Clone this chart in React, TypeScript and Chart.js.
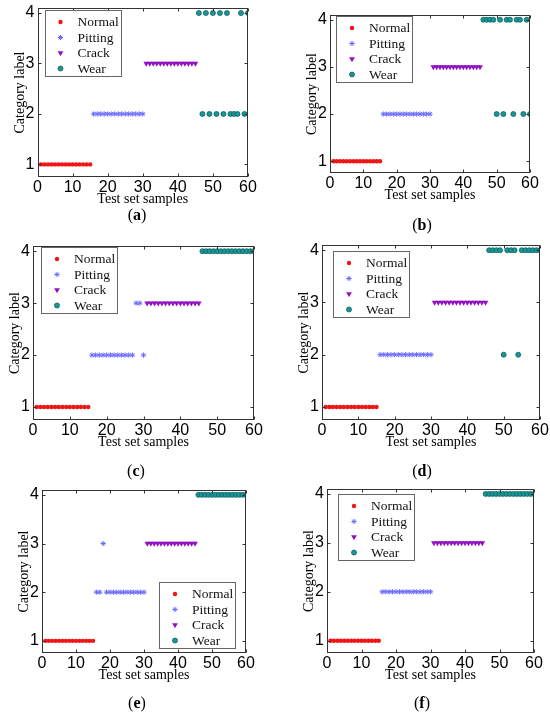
import { useEffect, useRef } from "react";
import { Chart, registerables } from "chart.js";
import { drawPoint } from "chart.js/helpers";

Chart.register(...registerables);

// classes and the test samples that belong to each (15 per class)
const classNames = ["Normal", "Pitting", "Crack", "Wear"];
const normalSamples = [1, 2, 3, 4, 5, 6, 7, 8, 9, 10, 11, 12, 13, 14, 15];
const pittingSamples = [16, 17, 18, 19, 20, 21, 22, 23, 24, 25, 26, 27, 28, 29, 30];
const crackSamples = [31, 32, 33, 34, 35, 36, 37, 38, 39, 40, 41, 42, 43, 44, 45];
const wearSamples = [46, 47, 48, 49, 50, 51, 52, 53, 54, 55, 56, 57, 58, 59, 60];
const classSamples = [normalSamples, pittingSamples, crackSamples, wearSamples];

// predicted category label for samples 1..60, one array per sub-figure
const predA = [
  1, 1, 1, 1, 1, 1, 1, 1, 1, 1, 1, 1, 1, 1, 1,
  2, 2, 2, 2, 2, 2, 2, 2, 2, 2, 2, 2, 2, 2, 2,
  3, 3, 3, 3, 3, 3, 3, 3, 3, 3, 3, 3, 3, 3, 3,
  4, 2, 4, 2, 4, 2, 4, 2, 4, 2, 2, 2, 4, 2, 4,
];
const predB = [
  1, 1, 1, 1, 1, 1, 1, 1, 1, 1, 1, 1, 1, 1, 1,
  2, 2, 2, 2, 2, 2, 2, 2, 2, 2, 2, 2, 2, 2, 2,
  3, 3, 3, 3, 3, 3, 3, 3, 3, 3, 3, 3, 3, 3, 3,
  4, 4, 4, 4, 2, 4, 2, 4, 4, 2, 4, 4, 2, 4, 2,
];
const predC = [
  1, 1, 1, 1, 1, 1, 1, 1, 1, 1, 1, 1, 1, 1, 1,
  2, 2, 2, 2, 2, 2, 2, 2, 2, 2, 2, 2, 3, 3, 2,
  3, 3, 3, 3, 3, 3, 3, 3, 3, 3, 3, 3, 3, 3, 3,
  4, 4, 4, 4, 4, 4, 4, 4, 4, 4, 4, 4, 4, 4, 4,
];
const predD = [
  1, 1, 1, 1, 1, 1, 1, 1, 1, 1, 1, 1, 1, 1, 1,
  2, 2, 2, 2, 2, 2, 2, 2, 2, 2, 2, 2, 2, 2, 2,
  3, 3, 3, 3, 3, 3, 3, 3, 3, 3, 3, 3, 3, 3, 3,
  4, 4, 4, 4, 2, 4, 4, 4, 2, 4, 4, 4, 4, 4, 4,
];
const predE = [
  1, 1, 1, 1, 1, 1, 1, 1, 1, 1, 1, 1, 1, 1, 1,
  2, 2, 3, 2, 2, 2, 2, 2, 2, 2, 2, 2, 2, 2, 2,
  3, 3, 3, 3, 3, 3, 3, 3, 3, 3, 3, 3, 3, 3, 3,
  4, 4, 4, 4, 4, 4, 4, 4, 4, 4, 4, 4, 4, 4, 4,
];
const predF = [
  1, 1, 1, 1, 1, 1, 1, 1, 1, 1, 1, 1, 1, 1, 1,
  2, 2, 2, 2, 2, 2, 2, 2, 2, 2, 2, 2, 2, 2, 2,
  3, 3, 3, 3, 3, 3, 3, 3, 3, 3, 3, 3, 3, 3, 3,
  4, 4, 4, 4, 4, 4, 4, 4, 4, 4, 4, 4, 4, 4, 4,
];

const xTicks = [0, 10, 20, 30, 40, 50, 60];
const yTicks = [1, 2, 3, 4];

const markerStyles = [
  { pointStyle: "circle", radius: 2.2, fill: "#f01414", stroke: "#f01414", width: 0, rotation: 0 },
  { pointStyle: "star", radius: 2.6, fill: "#6a6aff", stroke: "#6a6aff", width: 1, rotation: 0 },
  { pointStyle: "triangle", radius: 3.3, fill: "#9010c4", stroke: "#9010c4", width: 0, rotation: 180 },
  { pointStyle: "circle", radius: 2.5, fill: "#1a9696", stroke: "#0b6262", width: 0.8, rotation: 0 },
];

const AXIS_COLOR = "#333";
const TICK_LEN = 3;
const Y_AXIS_W = 26;
const X_AXIS_H = 31;
const SERIF = "'Liberation Serif', 'Times New Roman', serif";
const SANS = "'Liberation Sans', Arial, sans-serif";

type Rect = { l: number; t: number; r: number; b: number };
type Cell = { x: number; y: number; w: number; h: number };
type LegendPos = { corner: "tl" | "br"; dx: number; dy: number };

// box, inward tick marks on all four sides
const framePlugin = {
  id: "frame",
  afterDatasetsDraw(chart: any) {
    const { ctx, chartArea: a, scales } = chart;
    const l = Math.round(a.left) + 0.5;
    const r = Math.round(a.right) - 0.5;
    const t = Math.round(a.top) + 0.5;
    const b = Math.round(a.bottom) - 0.5;
    ctx.save();
    ctx.strokeStyle = AXIS_COLOR;
    ctx.lineWidth = 1;
    ctx.strokeRect(l, t, r - l, b - t);
    ctx.beginPath();
    xTicks.forEach((v) => {
      const px = Math.round(scales.x.getPixelForValue(v)) + 0.5;
      ctx.moveTo(px, b);
      ctx.lineTo(px, b - TICK_LEN);
      ctx.moveTo(px, t);
      ctx.lineTo(px, t + TICK_LEN);
    });
    yTicks.forEach((v) => {
      const py = Math.round(scales.y.getPixelForValue(v)) + 0.5;
      ctx.moveTo(l, py);
      ctx.lineTo(l + TICK_LEN, py);
      ctx.moveTo(r, py);
      ctx.lineTo(r - TICK_LEN, py);
    });
    ctx.stroke();
    ctx.restore();
  },
};

function makeLegendPlugin(pos: LegendPos) {
  return {
    id: "boxLegend",
    afterDraw(chart: any) {
      const { ctx, chartArea: a } = chart;
      const w = 76;
      const h = 66;
      const x = pos.corner === "tl" ? a.left + pos.dx : a.right - pos.dx - w;
      const y = pos.corner === "tl" ? a.top + pos.dy : a.bottom - pos.dy - h;
      ctx.save();
      ctx.fillStyle = "#fff";
      ctx.fillRect(x, y, w, h);
      ctx.strokeStyle = "#666";
      ctx.lineWidth = 1;
      ctx.strokeRect(Math.round(x) + 0.5, Math.round(y) + 0.5, w, h);
      ctx.font = `13.5px ${SERIF}`;
      ctx.textBaseline = "middle";
      ctx.textAlign = "left";
      chart.data.datasets.forEach((ds: any, i: number) => {
        const m = markerStyles[i];
        const cy = y + 12 + i * 15.5;
        ctx.fillStyle = m.fill;
        ctx.strokeStyle = m.stroke;
        ctx.lineWidth = m.width || 1;
        drawPoint(ctx, { pointStyle: m.pointStyle, rotation: m.rotation, radius: m.radius, borderWidth: m.width }, x + 16, cy);
        ctx.fillStyle = "#111";
        ctx.fillText(ds.label, x + 33, cy + 0.5);
      });
      ctx.restore();
    },
  };
}

type PanelProps = { pred: number[]; cell: Cell; area: Rect; legend: LegendPos };

const Panel = ({ pred, cell, area, legend }: PanelProps) => {
  const canvasRef = useRef<HTMLCanvasElement | null>(null);

  useEffect(() => {
    if (!canvasRef.current) return;
    const datasets = classNames.map((name, k) => {
      const m = markerStyles[k];
      return {
        label: name,
        data: classSamples[k].map((s) => ({ x: s, y: pred[s - 1] })),
        pointStyle: m.pointStyle,
        pointRadius: m.radius,
        pointBackgroundColor: m.fill,
        pointBorderColor: m.stroke,
        pointBorderWidth: m.width,
        pointRotation: m.rotation,
        showLine: false,
      };
    });

    const chart = new Chart(canvasRef.current, {
      type: "scatter",
      data: { datasets } as any,
      options: {
        responsive: false,
        animation: false,
        devicePixelRatio: 1,
        layout: {
          padding: {
            left: area.l - cell.x - Y_AXIS_W,
            right: cell.x + cell.w - area.r,
            top: area.t - cell.y,
            bottom: cell.y + cell.h - area.b - X_AXIS_H,
          },
        },
        plugins: {
          legend: { display: false },
          tooltip: { enabled: false },
        },
        scales: {
          x: {
            type: "linear",
            min: 0,
            max: 60,
            afterBuildTicks: (s: any) => {
              s.ticks = xTicks.map((v) => ({ value: v }));
            },
            afterFit: (s: any) => {
              s.height = X_AXIS_H;
              s.paddingLeft = 0;
              s.paddingRight = 0;
            },
            grid: { display: false, drawTicks: false },
            border: { display: false },
            ticks: {
              color: "#000",
              font: { family: SANS, size: 16 },
              padding: 1,
              maxRotation: 0,
              autoSkip: false,
            },
            title: {
              display: true,
              text: "Test set samples",
              color: "#000",
              font: { family: SERIF, size: 14 },
              padding: 0,
            },
          },
          y: {
            type: "linear",
            min: 0.75,
            max: 4.1,
            afterBuildTicks: (s: any) => {
              s.ticks = yTicks.map((v) => ({ value: v }));
            },
            afterFit: (s: any) => {
              s.width = Y_AXIS_W;
              s.paddingTop = 0;
              s.paddingBottom = 0;
            },
            grid: { display: false, drawTicks: false },
            border: { display: false },
            ticks: {
              color: "#000",
              font: { family: SANS, size: 16 },
              padding: 3,
              autoSkip: false,
            },
            title: {
              display: true,
              text: "Category label",
              color: "#000",
              font: { family: SERIF, size: 14 },
              padding: 0,
            },
          },
        },
      },
      plugins: [framePlugin, makeLegendPlugin(legend)],
    });

    return () => {
      chart.destroy();
    };
  }, [pred, cell, area, legend]);

  return (
    <canvas
      ref={canvasRef}
      width={cell.w}
      height={cell.h}
      style={{ position: "absolute", left: cell.x, top: cell.y, width: cell.w, height: cell.h }}
    />
  );
};

const panels = [
  { key: "a", pred: predA, cell: { x: 0, y: 0, w: 275, h: 235 }, area: { l: 37.5, t: 8, r: 248, b: 177 }, legend: { corner: "tl", dx: 7, dy: 2 }, cap: { x: 137, y: 215 } },
  { key: "b", pred: predB, cell: { x: 275, y: 0, w: 275, h: 235 }, area: { l: 330, t: 15, r: 530, b: 173 }, legend: { corner: "tl", dx: 6, dy: 1 }, cap: { x: 422, y: 225 } },
  { key: "c", pred: predC, cell: { x: 0, y: 235, w: 275, h: 240 }, area: { l: 33, t: 246, r: 254, b: 420 }, legend: { corner: "tl", dx: 8, dy: 1 }, cap: { x: 136, y: 471 } },
  { key: "d", pred: predD, cell: { x: 275, y: 235, w: 275, h: 240 }, area: { l: 322, t: 245, r: 540, b: 420 }, legend: { corner: "tl", dx: 11, dy: 6 }, cap: { x: 422, y: 471 } },
  { key: "e", pred: predE, cell: { x: 0, y: 475, w: 275, h: 238 }, area: { l: 42, t: 490, r: 246, b: 653 }, legend: { corner: "br", dx: 11, dy: 5 }, cap: { x: 137, y: 703 } },
  { key: "f", pred: predF, cell: { x: 275, y: 475, w: 275, h: 238 }, area: { l: 327, t: 489, r: 534, b: 653 }, legend: { corner: "tl", dx: 11, dy: 5 }, cap: { x: 422, y: 703 } },
];

export default function App() {
  return (
    <div style={{ position: "absolute", left: 0, top: 0, width: 550, height: 713, background: "#fff", overflow: "hidden" }}>
      {panels.map((p) => (
        <Panel key={p.key} pred={p.pred} cell={p.cell} area={p.area} legend={p.legend as LegendPos} />
      ))}
      {panels.map((p) => (
        <div
          key={"cap-" + p.key}
          style={{
            position: "absolute",
            left: p.cap.x,
            top: p.cap.y,
            transform: "translate(-50%, -50%)",
            fontFamily: SERIF,
            fontSize: 16,
            lineHeight: "16px",
          }}
        >
          (<b>{p.key}</b>)
        </div>
      ))}
    </div>
  );
}
